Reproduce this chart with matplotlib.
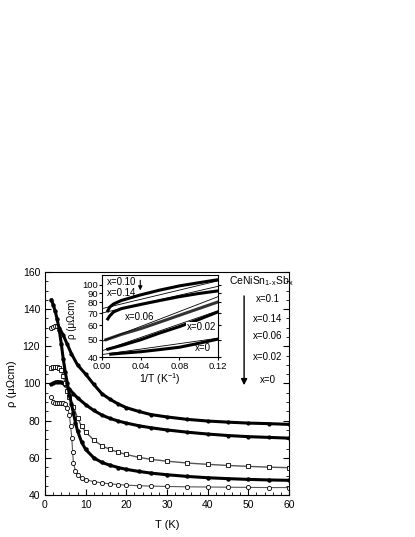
import numpy as np
import matplotlib.pyplot as plt
from matplotlib.ticker import MultipleLocator, FixedLocator, FixedFormatter, NullLocator

plt.rcParams['font.family'] = ['Liberation Sans', 'DejaVu Sans']
plt.rcParams['mathtext.fontset'] = 'custom'
plt.rcParams['mathtext.rm'] = 'Liberation Sans'
plt.rcParams['mathtext.it'] = 'Liberation Sans'

# main panel: resistivity vs temperature
T_010 = [1.5, 2.0, 2.5, 3.0, 3.5, 4.5, 5.5, 6.5, 8, 10, 12, 14, 16, 18, 20, 23, 26, 30, 35, 40, 45, 50, 55, 60]
rho_010 = [130, 130.5, 131, 131, 130, 126, 121, 116, 110, 105, 99.5, 94.5, 91.5, 89, 87, 85, 83.3, 82, 80.7, 79.8, 79.2, 78.7, 78.4, 78.0]

T_014 = [1.5, 2, 2.5, 3, 3.5, 4, 5, 6, 7, 8, 10, 12, 14, 16, 18, 20, 23, 26, 30, 35, 40, 45, 50, 55, 60]
rho_014 = [99.5, 100.2, 100.6, 101, 101, 100.6, 99, 97, 94.5, 92.3, 88.6, 85.5, 83, 81.2, 79.8, 78.7, 77.3, 76.2, 75, 73.8, 72.8, 72.0, 71.4, 71.0, 70.6]

T_006 = [1.5, 2, 2.5, 3, 3.5, 4, 4.5, 5, 5.5, 6, 7, 8, 9, 10, 12, 14, 16, 18, 20, 23, 26, 30, 35, 40, 45, 50, 55, 60]
rho_006 = [108.5, 108.8, 109, 109, 108.5, 107, 104, 100, 96, 93, 87.5, 81.5, 77, 74, 69.5, 66.5, 64.5, 63, 61.8, 60.3, 59.2, 58.2, 57.2, 56.5, 55.9, 55.4, 55.0, 54.7]

T_002 = [1.6, 2.0, 2.5, 3.0, 3.5, 4, 4.5, 5, 5.5, 6, 6.5, 7, 7.5, 8, 9, 10, 12, 14, 16, 18, 20, 23, 26, 30, 35, 40, 45, 50, 55, 60]
rho_002 = [145, 142.5, 139, 134.5, 129, 121.5, 113, 106, 100, 94, 89, 84, 79, 74.5, 68.5, 64.5, 60, 57.5, 56, 54.8, 53.8, 52.7, 51.8, 50.9, 50.0, 49.3, 48.8, 48.4, 48.1, 47.9]

T_000 = [1.5, 2, 2.5, 3, 3.5, 4, 4.5, 5, 5.5, 6, 6.3, 6.6, 6.8, 7, 7.5, 8, 9, 10, 12, 14, 16, 18, 20, 23, 26, 30, 35, 40, 45, 50, 55, 60]
rho_000 = [93, 90, 89.5, 89.5, 89.5, 89.5, 89.5, 89, 87, 83, 77, 70.5, 63, 57, 53, 51, 49.2, 48.2, 47.2, 46.5, 46, 45.6, 45.3, 45, 44.8, 44.6, 44.4, 44.3, 44.2, 44.1, 44.0, 44.0]

# inset: rho vs 1/T (log scale)
iT_010 = [0.006, 0.008, 0.012, 0.02, 0.04, 0.06, 0.08, 0.10, 0.12]
irho_010 = [72, 75.5, 78.5, 82, 88, 93.5, 98.5, 102.5, 106.5]
iT_014 = [0.006, 0.008, 0.012, 0.02, 0.04, 0.06, 0.08, 0.10, 0.12]
irho_014 = [65, 67.5, 71, 74, 78, 82, 86, 89.5, 92.5]
iT_006 = [0.004, 0.02, 0.04, 0.06, 0.08, 0.10, 0.12]
irho_006 = [50, 53.5, 57.5, 62.5, 68, 74, 80.5]
iT_002 = [0.006, 0.02, 0.04, 0.06, 0.08, 0.10, 0.12]
irho_002 = [44.4, 46.5, 50, 54.5, 59, 64.5, 71]
iT_000 = [0.009, 0.02, 0.04, 0.06, 0.08, 0.10, 0.12]
irho_000 = [41.7, 42.2, 43, 44.2, 45.5, 47.8, 50.4]

# straight fits in the inset (end points)
fit_x = [0.0, 0.12]
fit_010 = [74, 105]
fit_014 = [70, 98]
fit_006 = [49, 86]
fit_002 = [43.5, 72]
fit_000 = [41.5, 51]

labels = ['x=0.1', 'x=0.14', 'x=0.06', 'x=0.02', 'x=0']

fig = plt.figure(figsize=(4.15, 5.37), dpi=100)
ax = fig.add_axes([0.1084, 0.0782, 0.588, 0.4153])

ax.plot(T_010, rho_010, '-', color='black', lw=2.2, marker='o', ms=2, mfc='black')
ax.plot(T_010[:4], rho_010[:4], 'o', ms=3, mfc='white', mec='black', mew=0.6)
ax.plot(T_014, rho_014, '-', color='black', lw=2.2, marker='o', ms=2)
ax.plot(T_006, rho_006, '-', color='#555555', lw=1.0)
ax.plot(T_006, rho_006, 's', ms=3, mfc='white', mec='black', mew=0.6)
ax.plot(T_002, rho_002, '-', color='black', lw=2.2, marker='o', ms=2.2)
ax.plot(T_000, rho_000, '-', color='#555555', lw=0.8)
ax.plot(T_000, rho_000, 'o', ms=3, mfc='white', mec='black', mew=0.6)

ax.set_xlim(0, 60)
ax.set_ylim(40, 160)
ax.xaxis.set_major_locator(MultipleLocator(10))
ax.xaxis.set_minor_locator(MultipleLocator(2))
ax.yaxis.set_major_locator(MultipleLocator(20))
ax.yaxis.set_minor_locator(MultipleLocator(5))
ax.tick_params(which='both', direction='in', right=True, top=False, labelsize=7.5)
ax.tick_params(which='major', length=4)
ax.tick_params(which='minor', length=2)
ax.set_xlabel('T (K)', fontsize=8, labelpad=7)
ax.set_ylabel('ρ (μΩcm)', fontsize=8)

ax.text(0.754, 0.96, r'$\mathrm{CeNiSn_{1\text{-}x}Sb_x}$', transform=ax.transAxes, fontsize=7.5,
        va='center', ha='left')
ax.annotate('', xy=(0.816, 0.48), xytext=(0.816, 0.905), xycoords='axes fraction',
            arrowprops=dict(arrowstyle='-|>', color='black', lw=1.0, mutation_scale=9))
lab_y = [0.879, 0.789, 0.713, 0.619, 0.516]
for lab, yy in zip(labels, lab_y):
    ax.text(0.912, yy, lab, transform=ax.transAxes, fontsize=7, ha='center', va='center')

# inset
ins = fig.add_axes([0.2458, 0.3343, 0.2795, 0.1536])
ins.set_yscale('log')
for xx, yy in [(iT_010, irho_010), (iT_014, irho_014), (iT_002, irho_002), (iT_000, irho_000)]:
    ins.plot(xx, yy, '-', color='black', lw=2.2)
ins.plot(iT_006, irho_006, '-', color='#333333', lw=2.2)
for ff in [fit_010, fit_014, fit_006, fit_002, fit_000]:
    ins.plot(fit_x, ff, '-', color='black', lw=0.6)
ins.set_xlim(0, 0.12)
ins.set_ylim(40, 113)
ins.xaxis.set_major_locator(FixedLocator([0, 0.04, 0.08, 0.12]))
ins.xaxis.set_major_formatter(FixedFormatter(['0.00', '0.04', '0.08', '0.12']))
ins.xaxis.set_minor_locator(NullLocator())
yt = [40, 50, 60, 70, 80, 90, 100]
ins.yaxis.set_major_locator(FixedLocator(yt))
ins.yaxis.set_major_formatter(FixedFormatter([str(v) for v in yt]))
ins.yaxis.set_minor_locator(NullLocator())
ins.tick_params(which='both', direction='out', length=2, right=True, labelsize=6.8, pad=1)
ins.set_xlabel('1/T (K$^{-1}$)', fontsize=7.5, labelpad=0.5)
ins.set_ylabel('ρ (μΩcm)', fontsize=7)
ins.yaxis.set_label_coords(-0.215, 0.47)

ins.text(0.04, 0.915, 'x=0.10', transform=ins.transAxes, fontsize=7, va='center', ha='left')
ins.text(0.04, 0.78, 'x=0.14', transform=ins.transAxes, fontsize=7, va='center', ha='left')
ins.annotate('', xy=(0.33, 0.78), xytext=(0.33, 0.97), xycoords='axes fraction',
             arrowprops=dict(arrowstyle='-|>', color='black', lw=0.8, mutation_scale=6))
ins.text(0.2, 0.487, 'x=0.06', transform=ins.transAxes, fontsize=7, va='center', ha='left')
ins.text(0.985, 0.366, 'x=0.02', transform=ins.transAxes, fontsize=7, va='center', ha='right',
         bbox=dict(facecolor='white', edgecolor='none', pad=0.3))
ins.text(0.80, 0.115, 'x=0', transform=ins.transAxes, fontsize=7, va='center', ha='left')

fig.savefig('out.png', dpi=100)
